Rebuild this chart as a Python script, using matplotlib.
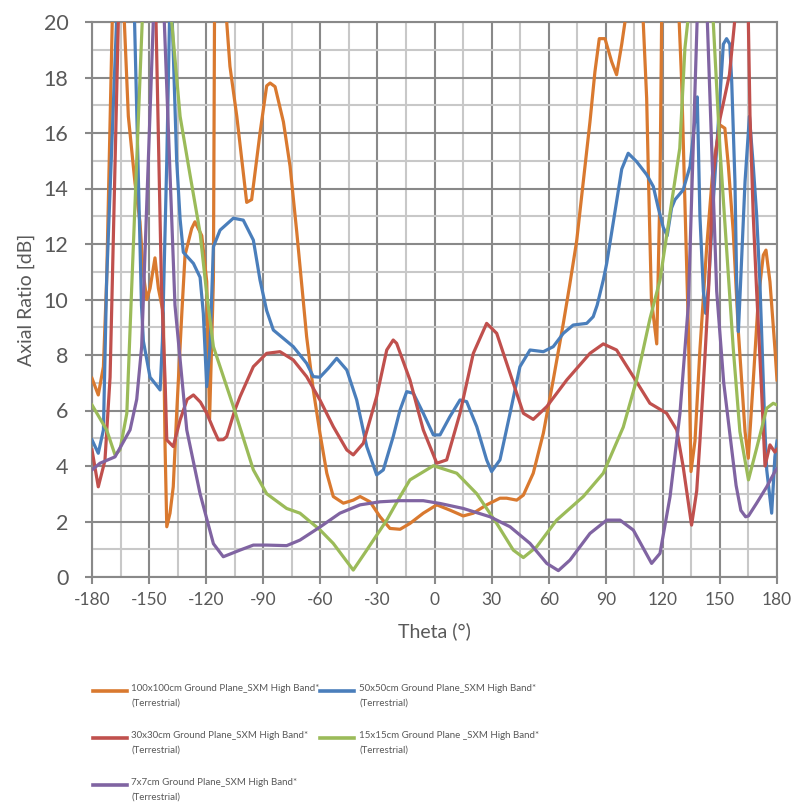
import matplotlib
matplotlib.use("Agg")
import matplotlib.pyplot as plt
from matplotlib.lines import Line2D
from matplotlib.ticker import MultipleLocator
from matplotlib import font_manager

plt.rcParams['font.family'] = ['Lato', 'DejaVu Sans']
plt.rcParams['axes.unicode_minus'] = False

# ---------------- data (theta in degrees, axial ratio in dB; >20 is clipped) ----------------
theta_100 = [-180, -176.7, -174, -172.3, -169.3, -166, -163, -160.9, -157.4, -154.8, -153, -151.2,
             -149.5, -146.9, -145.1, -142.5, -141.6, -140.7, -139, -137.3, -135.5, -132.8, -131.1,
             -127.6, -125.9, -122.3, -119.7, -118.2, -116.2, -115.5, -112, -109.2, -107.5, -103.9,
             -98.7, -96.1, -91.7, -88.2, -86.4, -83.8, -79.4, -75.9, -72.4, -68.9, -67.2, -63.7,
             -60.2, -56.6, -53.2, -47.9, -42.7, -39.1, -33.9, -28.6, -23.4, -18.1, -12.9, -5.9,
             1.2, 8.1, 15.1, 20.4, 27.4, 34.4, 37.9, 43.2, 46.7, 51.9, 57.2, 62.4, 67.7, 71,
             74.7, 78.2, 81.7, 84.3, 86.6, 89.6, 93.1, 95.7, 98.4, 100.1, 105, 109.7, 111.5,
             112.5, 114, 116.8, 118.5, 119.5, 124, 128.6, 129.9, 131.6, 133.4, 134.8, 136.9,
             139.5, 143, 146.5, 150, 152.6, 154.4, 157, 159.7, 163.2, 164.9, 167.5, 170.2,
             172.8, 174.2, 176.3, 178.9, 180]
ar_100 = [7.16, 6.56, 7.58, 10.7, 20.2, 25, 20, 16.6, 14.2, 12.8, 10.9, 10.0,
          10.4, 11.5, 10.4, 9.5, 4.7, 1.81, 2.3, 3.25, 5.9, 9.5, 11.6,
          12.56, 12.8, 12.3, 10.64, 5.7, 10.7, 22, 26, 20, 18.4, 16.6,
          13.5, 13.6, 16.0, 17.7, 17.8, 17.67, 16.4, 14.8, 12.44, 9.9, 8.66, 6.74,
          5.18, 3.74, 2.9, 2.66, 2.77, 2.9, 2.71, 2.17, 1.75, 1.72, 1.93, 2.3,
          2.6, 2.41, 2.2, 2.3, 2.6, 2.84, 2.84, 2.77, 2.95, 3.74, 5.18, 7.1, 9.14, 10.5,
          12.1, 14.25, 16.4, 18.2, 19.4, 19.4, 18.57, 18.1, 19.2, 20.0, 25, 20, 17.25,
          14.25, 10.0, 8.4, 14, 21, 26, 20, 17.85, 13.5, 9.0, 3.8, 4.9,
          8.2, 11.84, 14.85, 16.29, 16.17, 14.85, 12.44, 8.84, 5.24, 4.28, 7.04, 10.04,
          11.6, 11.78, 10.64, 8.24, 7.1]

theta_50 = [-180, -176.7, -174, -172.3, -167, -162, -157.7, -155.5, -154, -153, -149.5, -146,
            -144.2, -143, -140.7, -139, -137.8, -135.5, -133.7, -132, -126.7, -123.2, -121.5,
            -119.7, -118, -116.2, -112.7, -105.7, -100.5, -95.2, -91.7, -88.2, -84.7, -74.2,
            -67.2, -63.7, -60.2, -55.8, -51.4, -46.1, -40.9, -35.6, -30.4, -26.9, -21.7, -18.1,
            -14.6, -11.1, -5.9, -0.6, 2.9, 8.1, 13.4, 16.9, 22.2, 27.4, 30, 34.4, 39.7, 44.9,
            50.2, 57.2, 62.4, 67.7, 72.9, 80, 83.4, 85.5, 88.7, 90.5, 94, 98.4, 101.8, 106.2,
            111.5, 115, 117.6, 120.2, 122.3, 124.6, 126.4, 130.7, 134.3, 136.9, 138.1, 139.5,
            141.3, 142.5, 144, 146.5, 151.8, 153.5, 155.2, 156.2, 157.9, 158.8, 159.7, 160.5,
            163.2, 165.5, 167.5, 169.3, 171, 172.8, 173.7, 174.6, 177.2, 178.9, 180]
ar_50 = [4.94, 4.46, 5.3, 10.7, 20.2, 25, 20.2, 14, 9.8, 8.5, 7.2, 6.9,
         6.74, 8.5, 15, 21, 20, 15, 12.9, 11.7, 11.3, 10.8, 9.5,
         6.86, 8.3, 11.9, 12.5, 12.93, 12.86, 12.14, 10.7, 9.6, 8.9, 8.3,
         7.7, 7.22, 7.2, 7.52, 7.88, 7.46, 6.38, 4.7, 3.68, 3.86, 5.06, 6.02,
         6.68, 6.62, 5.9, 5.12, 5.12, 5.78, 6.38, 6.32, 5.42, 4.22, 3.8, 4.22, 5.9, 7.58,
         8.18, 8.12, 8.3, 8.78, 9.08, 9.14, 9.38, 9.8, 10.7, 11.3, 12.8, 14.7, 15.27, 14.97,
         14.5, 14.07, 13.3, 12.6, 12.3, 13.3, 13.6, 13.95, 14.8, 16.5, 17.3, 13,
         10.3, 9.5, 10.5, 13.5, 19.2, 19.4, 19.2, 17.85, 14.25, 10.64, 8.84, 10.04,
         14.25, 16.6, 14.85, 13.05, 10.64, 7.04, 5.24, 3.86, 2.3, 4.34, 4.9]

theta_30 = [-180, -176.7, -173.2, -170.5, -169.6, -166.1, -156, -146.5, -143.5, -141.6, -140.7,
            -137.3, -133.7, -130, -126.7, -123, -119.7, -116, -113.6, -111, -109.2, -105, -102.2,
            -95.2, -88.2, -81.2, -74.2, -67.2, -60.2, -53.2, -46.1, -42.7, -37.4, -30.4, -25.1,
            -21.7, -19.9, -12.9, -5.9, 1.2, 6.4, 13.4, 20.4, 27.4, 32.7, 39.7, 46.7, 51.9, 59,
            69.5, 81.7, 88.7, 95.7, 104.5, 113.2, 122, 127.3, 130.7, 135.1, 137.8, 139.5, 142.1,
            144, 146.5, 150, 155, 158, 161.5, 164.9, 165.8, 167.5, 169.3, 171.9, 173.7, 176.3,
            178.9, 180]
ar_30 = [4.58, 3.25, 4.2, 7.2, 9.8, 20.2, 30, 20.5, 10.5, 7.1, 4.94,
         4.7, 5.66, 6.4, 6.56, 6.3, 5.9, 5.3, 4.94, 4.95, 5.06, 6.0, 6.5,
         7.58, 8.06, 8.12, 7.82, 7.22, 6.38, 5.42, 4.58, 4.4, 4.82, 6.5, 8.18,
         8.54, 8.42, 7.1, 5.3, 4.1, 4.22, 5.9, 8.06, 9.14, 8.78, 7.34, 5.9, 5.68, 6.14,
         7.1, 8.06, 8.4, 8.18, 7.22, 6.26, 5.9, 5.3, 3.97, 1.87, 3.1, 4.9, 7.9,
         10.3, 14.5, 16.5, 18.1, 20.2, 24, 20.2, 16.65, 13.05, 10.3, 6.7, 4.0, 4.76,
         4.5, 4.6]

theta_15 = [-180, -172.3, -167.9, -165.3, -161.7, -159.5, -153.5, -146, -138.1, -133.7, -128.5,
            -123.2, -119.7, -116.2, -105.7, -95.2, -88.2, -77.7, -70.7, -60.2, -53.2, -42.7,
            -35.6, -25.1, -18.1, -12.9, -0.6, 11.7, 22.2, 32.7, 41.4, 46.7, 53.7, 64.2, 78.2,
            88.7, 99.2, 106.2, 113.2, 118.5, 128.9, 131.6, 133.4, 140, 146.5, 150, 153.5, 157,
            160.5, 165, 169.3, 174.6, 178, 180]
ar_15 = [6.2, 5.3, 4.4, 4.58, 5.9, 9.8, 20.2, 28, 20, 16.6, 14.5,
         12.4, 10.2, 8.3, 6.14, 3.86, 3.0, 2.47, 2.3, 1.7, 1.21, 0.25,
         0.97, 2.05, 2.9, 3.5, 4.01, 3.74, 3.0, 1.93, 0.97, 0.7, 1.09, 2.05, 2.9,
         3.74, 5.4, 7.1, 9.3, 10.7, 15.45, 19.05, 20.2, 26, 20, 15.45, 11.84, 8.24,
         5.24, 3.5, 4.64, 6.08, 6.26, 6.2]

theta_7 = [-180, -175.8, -167.9, -160, -156.5, -153.9, -147.8, -145, -142, -136.4, -130.2,
           -123.2, -116.2, -111, -102.2, -95.2, -88.2, -77.7, -70.7, -60.2, -49.7, -39.1,
           -28.6, -18.1, -5.9, 2.9, 15.1, 29.2, 39.7, 50.2, 59, 65.1, 71.2, 81.7, 90.5, 97.5,
           104.5, 114.1, 118.5, 123.8, 129, 133.4, 138, 140.5, 143.4, 148.3, 152, 155.5,
           158.5, 161, 163.5, 165, 169.3, 174.6, 178.9, 180]
ar_7 = [3.86, 4.1, 4.33, 5.3, 6.4, 8.3, 20, 25, 20, 9.8, 5.3,
        3.0, 1.2, 0.73, 0.97, 1.15, 1.15, 1.13, 1.33, 1.8, 2.3, 2.6,
        2.71, 2.75, 2.75, 2.65, 2.47, 2.17, 1.81, 1.21, 0.49, 0.23, 0.61, 1.57, 2.05, 2.05,
        1.69, 0.49, 0.85, 2.9, 5.9, 9.8, 20, 25, 20, 10.3, 7.0, 5.0,
        3.3, 2.4, 2.17, 2.2, 2.66, 3.25, 3.8, 3.9]

labels = ["100x100cm Ground Plane_SXM High Band*\n(Terrestrial)",
          "50x50cm Ground Plane_SXM High Band*\n(Terrestrial)",
          "30x30cm Ground Plane_SXM High Band*\n(Terrestrial)",
          "15x15cm Ground Plane _SXM High Band*\n(Terrestrial)",
          "7x7cm Ground Plane_SXM High Band*\n(Terrestrial)"]
colors = ["#D9792F", "#4A7EBB", "#C0504D", "#9BBB59", "#8064A2"]
series = [(theta_100, ar_100), (theta_50, ar_50), (theta_30, ar_30),
          (theta_15, ar_15), (theta_7, ar_7)]

x_ticks = list(range(-180, 181, 30))
y_ticks = list(range(0, 21, 2))

# narrow font for the legend if available
names = {f.name for f in font_manager.fontManager.ttflist}
if "Liberation Sans Narrow" in names:
    leg_family, leg_size = ["Liberation Sans Narrow", "DejaVu Sans"], 8.3
else:
    leg_family, leg_size = ["Lato", "DejaVu Sans"], 7.0

# ---------------- figure ----------------
fig = plt.figure(figsize=(7.94, 8.09), dpi=100)
ax = fig.add_axes([92 / 794, 1 - 577 / 809, (777 - 92) / 794, (577 - 22) / 809])

dark = "#898989"
light = "#C8C8C8"
txt = "#595959"

for (th, v), c in zip(series, colors):
    ax.plot(th, v, color=c, lw=2.3, solid_joinstyle="round", zorder=3)

ax.set_xlim(-180, 180)
ax.set_ylim(0, 20)
ax.set_xticks(x_ticks)
ax.set_yticks(y_ticks)
ax.xaxis.set_minor_locator(MultipleLocator(15))
ax.yaxis.set_minor_locator(MultipleLocator(1))
ax.grid(which="minor", color=light, lw=1.5, zorder=0)
ax.grid(which="major", color=dark, lw=1.5, zorder=1)
ax.set_axisbelow(True)
for s in ax.spines.values():
    s.set_color(dark)
    s.set_linewidth(1.5)
ax.tick_params(which="major", direction="out", length=5, width=1.5, color=dark,
               labelcolor=txt)
ax.tick_params(which="minor", length=0)
ax.tick_params(axis="y", labelsize=15.5, pad=12)
ax.tick_params(axis="x", labelsize=12.5, pad=6)

ax.set_xlabel("Theta (°)", fontsize=14, color=txt, labelpad=10)
ax.set_ylabel("Axial Ratio [dB]", fontsize=14, color=txt, labelpad=6)

# ---------------- legend (two columns below the plot) ----------------
col_x = [(93, 127, 131), (320, 354, 359)]
row_y = [691, 738, 785]
for i, (lab, c) in enumerate(zip(labels, colors)):
    r, k = divmod(i, 2)
    x0, x1, xt = col_x[k]
    y = row_y[r]
    fig.add_artist(Line2D([x0 / 794, x1 / 794], [1 - y / 809, 1 - y / 809],
                          transform=fig.transFigure, color=c, lw=2.6))
    fig.text(xt / 794, 1 - (y - 7) / 809, lab, fontsize=leg_size, color=txt,
             family=leg_family, va="top", ha="left", linespacing=1.8)

fig.savefig("out.png", dpi=100)
